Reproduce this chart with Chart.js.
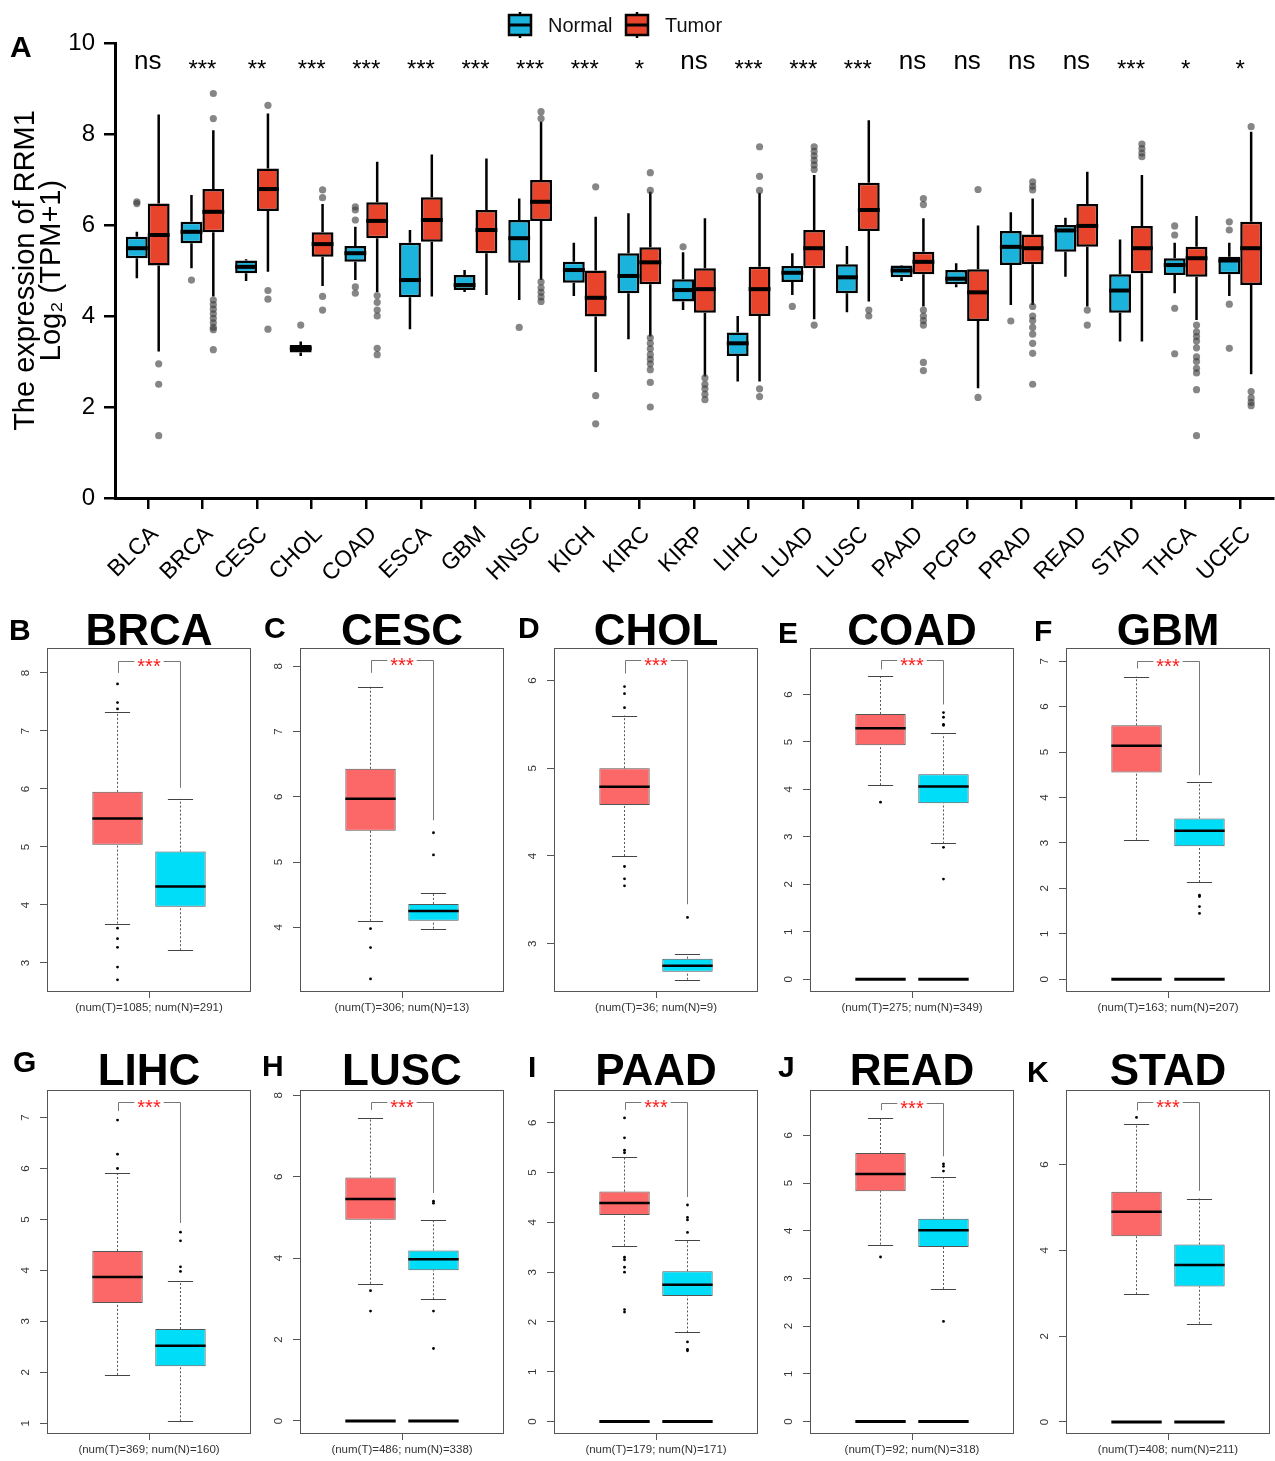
<!DOCTYPE html>
<html>
<head>
<meta charset="utf-8">
<script src="https://cdn.jsdelivr.net/npm/chart.js@4.4.1/dist/chart.umd.min.js"></script>
<style>
html,body{margin:0;padding:0;background:#fff;}
body{width:1275px;height:1461px;position:relative;overflow:hidden;}
canvas{position:absolute;}
</style>
</head>
<body>
<script>
// ================= Panel A data =================
const cancerTypes = ['BLCA','BRCA','CESC','CHOL','COAD','ESCA','GBM','HNSC','KICH','KIRC','KIRP','LIHC','LUAD','LUSC','PAAD','PCPG','PRAD','READ','STAD','THCA','UCEC'];
const significance = ['ns','***','**','***','***','***','***','***','***','*','ns','***','***','***','ns','ns','ns','ns','***','*','*'];
// [lower whisker, Q1, median, Q3, upper whisker]
const normalStats = [
  [4.83,5.27,5.49,5.74,5.85],[5.05,5.60,5.85,6.07,6.66],[4.77,4.94,5.08,5.22,5.25],[3.12,3.20,3.29,3.36,3.44],
  [4.79,5.19,5.38,5.54,5.96],[3.71,4.41,4.79,5.61,5.89],[4.53,4.57,4.68,4.90,5.01],[4.35,5.17,5.71,6.11,6.58],
  [4.44,4.73,5.01,5.19,5.61],[3.49,4.50,4.88,5.38,6.26],[4.13,4.32,4.57,4.81,5.40],[2.56,3.12,3.40,3.64,4.00],
  [4.46,4.75,4.95,5.10,5.38],[4.08,4.50,4.85,5.14,5.54],[4.77,4.85,5.00,5.11,5.12],[4.63,4.70,4.82,5.01,5.16],
  [4.24,5.12,5.52,5.87,6.28],[4.86,5.41,5.88,6.00,6.16],[3.44,4.07,4.56,4.92,5.68],[4.50,4.90,5.12,5.27,5.61],
  [4.44,4.92,5.22,5.30,5.61]
];
const tumorStats = [
  [3.22,5.11,5.78,6.47,8.43],[4.43,5.84,6.29,6.79,8.08],[4.97,6.31,6.79,7.24,8.45],[4.66,5.30,5.58,5.84,6.46],
  [4.53,5.71,6.09,6.50,7.39],[4.43,5.63,6.11,6.61,7.55],[4.46,5.38,5.89,6.33,7.46],[4.79,6.09,6.51,6.99,8.27],
  [2.77,3.99,4.40,5.00,6.18],[3.55,4.70,5.18,5.51,6.73],[2.67,4.07,4.59,5.05,6.15],[2.56,4.00,4.59,5.08,6.71],
  [3.93,5.05,5.49,5.89,7.10],[4.32,5.87,6.33,6.93,8.30],[4.21,4.92,5.19,5.41,6.15],[2.41,3.89,4.52,5.03,5.99],
  [4.24,5.14,5.49,5.79,6.58],[4.21,5.52,5.98,6.46,7.17],[3.44,4.94,5.49,5.98,7.10],[3.91,4.86,5.27,5.52,6.20],
  [2.72,4.68,5.49,6.07,8.05]
];
const normalOutliers = [
  [6.51,6.47],[4.79],[],[3.80],[6.40,6.33,6.11,4.64,4.50],[],[],[3.75],[],[],[5.52],[],
  [4.21],[],[],[],[3.89],[],[],[5.98,5.78,4.17,3.17],[6.07,5.89,4.26,3.29]
];
const tumorOutliers = [
  [2.95,2.50,1.37],
  [8.89,8.34,4.35,4.25,4.15,4.05,3.95,3.85,3.75,3.70,3.26],
  [8.63,4.56,4.37,3.71],
  [6.77,6.60,4.43,4.13],
  [4.45,4.30,4.13,4.00,3.29,3.15],
  [],[],
  [8.49,8.34,4.75,4.62,4.52,4.42,4.32],
  [6.84,2.25,1.63],
  [7.15,6.76,3.52,3.40,3.28,3.15,3.05,2.95,2.82,2.54,2.00],
  [2.64,2.50,2.40,2.28,2.16],
  [7.72,7.07,6.76,2.40,2.23],
  [7.72,7.62,7.52,7.42,7.32,7.22,3.80],
  [4.13,4.00],
  [6.58,6.45,4.13,4.00,3.90,3.80,2.98,2.80],
  [6.78,2.21],
  [6.95,6.85,6.77,4.21,4.00,3.90,3.75,3.60,3.40,3.18,2.50],
  [4.13,3.80],
  [7.78,7.68,7.58,7.50],
  [3.80,3.65,3.55,3.45,3.30,3.10,3.00,2.85,2.75,2.38,1.37],
  [8.16,2.34,2.20,2.10,2.03]
];
const yTicksA = [0,2,4,6,8,10];
const seriesNames = ['Normal','Tumor'];

// ================= Panels B-K data =================
const panelNames = ['BRCA','CESC','CHOL','COAD','GBM','LIHC','LUSC','PAAD','READ','STAD'];
const panelLetters = ['B','C','D','E','F','G','H','I','J','K'];
const panelTumorStats = [
  [3.68,5.04,5.49,5.95,7.33],[4.10,5.48,5.97,6.43,7.69],[4.00,4.58,4.79,5.00,5.60],[4.09,4.93,5.29,5.59,6.39],
  [3.07,4.55,5.14,5.59,6.66],[1.95,3.36,3.87,4.38,5.91],[3.37,4.94,5.45,5.98,7.45],[3.53,4.15,4.39,4.62,5.32],
  [3.71,4.83,5.19,5.63,6.36],[2.98,4.33,4.90,5.37,6.95]
];
const panelNormalStats = [
  [3.22,3.97,4.32,4.92,5.83],[3.98,4.10,4.25,4.36,4.52],[2.59,2.68,2.75,2.83,2.88],[2.86,3.71,4.06,4.32,5.18],
  [2.14,2.93,3.27,3.54,4.34],[1.04,2.12,2.52,2.85,3.79],[2.99,3.70,3.97,4.19,4.94],[1.79,2.52,2.75,3.02,3.65],
  [2.78,3.66,4.01,4.25,5.12],[2.29,3.16,3.66,4.14,5.21]
];
const panelTumorOutliers = [
  [7.81,7.49,7.38,3.60,3.42,3.27,2.93,2.71],[3.98,3.69,3.21],[5.93,5.85,5.69,3.88,3.74,3.66],[3.73],
  [],[6.95,6.28,6.00],[3.20,2.70],[6.10,5.70,5.45,5.40,3.30,3.25,3.10,3.00,2.25,2.20],[3.45],[7.10]
];
const panelNormalOutliers = [
  [],[5.45,5.11],[3.30],[5.62,5.52,5.37,5.35,2.78,2.11],[1.85,1.82,1.60,1.45],[4.75,4.58,4.07,3.98],
  [5.40,5.35,2.70,1.78],[4.35,4.10,4.05,3.80,1.60,1.45,1.42],[5.40,5.35,5.25,2.10],[]
];
const panelYMin = [2.50,3.01,2.45,-0.27,-0.28,0.79,-0.32,-0.25,-0.26,-0.28];
const panelYMax = [8.43,8.28,6.37,6.98,7.29,7.54,8.13,6.66,6.95,7.74];
const panelYTicks = [
  [3,4,5,6,7,8],[4,5,6,7,8],[3,4,5,6],[0,1,2,3,4,5,6],[0,1,2,3,4,5,6,7],
  [1,2,3,4,5,6,7],[0,2,4,6,8],[0,1,2,3,4,5,6],[0,1,2,3,4,5,6],[0,2,4,6]
];
// [bracket top, tumor leg end, normal leg end]
const panelBracket = [
  [8.20,8.00,6.02],[8.09,7.90,5.64],[6.23,6.08,3.45],[6.72,6.53,5.79],[7.00,6.84,4.49],
  [7.30,7.13,4.93],[7.83,7.64,5.60],[6.41,6.26,4.51],[6.68,6.53,5.56],[7.45,7.26,5.39]
];
const panelTumorN = [1085,306,36,275,163,369,486,179,92,408];
const panelNormalN = [291,13,9,349,207,160,338,171,318,211];
const panelZeroGroups = [false,false,false,true,true,false,true,true,true,true];

// ================= Drawing =================
const FONT = "'Liberation Sans', Arial, Helvetica, sans-serif";
Chart.defaults.font.family = FONT;
const NORMAL_A = '#1bb3dc', TUMOR_A = '#e8432b';
const NORMAL_S = '#00ddf9', TUMOR_S = '#fc6767';

function makeCanvas(left, top, w, h) {
  const c = document.createElement('canvas');
  c.width = w; c.height = h;
  c.style.left = left + 'px'; c.style.top = top + 'px';
  c.style.width = w + 'px'; c.style.height = h + 'px';
  document.body.appendChild(c);
  return c;
}

function boxParts(cfg) {
  return {
    id: 'boxParts',
    beforeDatasetsDraw(chart) {
      const ctx = chart.ctx, ys = chart.scales.y;
      cfg.sets.forEach(set => {
        const meta = chart.getDatasetMeta(set.ds);
        meta.data.forEach((bar, i) => {
          const s = set.stats[i];
          const {x, width} = bar.getProps(['x', 'width'], true);
          ctx.save();
          ctx.strokeStyle = cfg.whiskerColor; ctx.lineWidth = cfg.whiskerWidth;
          if (cfg.whiskerDash) ctx.setLineDash(cfg.whiskerDash);
          ctx.beginPath();
          ctx.moveTo(x, ys.getPixelForValue(s[0])); ctx.lineTo(x, ys.getPixelForValue(s[1]));
          ctx.moveTo(x, ys.getPixelForValue(s[3])); ctx.lineTo(x, ys.getPixelForValue(s[4]));
          ctx.stroke();
          ctx.restore();
          if (cfg.capRatio) {
            ctx.save(); ctx.strokeStyle = cfg.capColor; ctx.lineWidth = 1;
            const hw = width * cfg.capRatio / 2;
            [s[0], s[4]].forEach(v => {
              const py = Math.round(ys.getPixelForValue(v)) + 0.5;
              ctx.beginPath(); ctx.moveTo(x - hw, py); ctx.lineTo(x + hw, py); ctx.stroke();
            });
            ctx.restore();
          }
        });
      });
    },
    afterDatasetsDraw(chart) {
      const ctx = chart.ctx, ys = chart.scales.y;
      cfg.sets.forEach(set => {
        const meta = chart.getDatasetMeta(set.ds);
        meta.data.forEach((bar, i) => {
          const s = set.stats[i];
          const {x, width} = bar.getProps(['x', 'width'], true);
          ctx.save();
          ctx.strokeStyle = '#000'; ctx.lineWidth = cfg.medianWidth;
          const py = ys.getPixelForValue(s[2]);
          ctx.beginPath(); ctx.moveTo(x - width / 2, py); ctx.lineTo(x + width / 2, py); ctx.stroke();
          if (cfg.zero) {
            const pz = ys.getPixelForValue(0);
            ctx.lineWidth = 3;
            ctx.beginPath(); ctx.moveTo(x - width / 2, pz); ctx.lineTo(x + width / 2, pz); ctx.stroke();
          }
          ctx.restore();
        });
      });
    }
  };
}

// ---------- Panel A ----------
(function () {
  const W = 1277, H = 600;
  const cv = makeCanvas(0, 0, W, H);
  const DODGE = 0.2;
  const nPts = [], tPts = [];
  normalOutliers.forEach((arr, i) => arr.forEach(v => nPts.push({x: i + 1 - DODGE, y: v})));
  tumorOutliers.forEach((arr, i) => arr.forEach(v => tPts.push({x: i + 1 + DODGE, y: v})));

  const overlay = {
    id: 'overlayA',
    afterDraw(chart) {
      const ctx = chart.ctx, xs = chart.scales.x, ca = chart.chartArea;
      ctx.save();
      // significance labels
      ctx.fillStyle = '#000'; ctx.textAlign = 'center'; ctx.textBaseline = 'alphabetic';
      significance.forEach((s, i) => {
        const px = xs.getPixelForValue(i + 1);
        if (s === 'ns') { ctx.font = '26px ' + FONT; ctx.fillText(s, px, ca.top + 26); }
        else { ctx.font = '24px ' + FONT; ctx.fillText(s, px, ca.top + 34); }
      });
      // legend
      const icons = [[509, NORMAL_A], [626, TUMOR_A]];
      icons.forEach(([x0, col], k) => {
        const y0 = 15;
        ctx.strokeStyle = '#000'; ctx.lineWidth = 2.5;
        ctx.beginPath(); ctx.moveTo(x0 + 11, y0 - 3); ctx.lineTo(x0 + 11, y0 + 23); ctx.stroke();
        ctx.fillStyle = col; ctx.fillRect(x0, y0, 22, 20);
        ctx.strokeRect(x0, y0, 22, 20);
        ctx.lineWidth = 3;
        ctx.beginPath(); ctx.moveTo(x0, y0 + 10); ctx.lineTo(x0 + 22, y0 + 10); ctx.stroke();
        ctx.fillStyle = '#111'; ctx.font = '20px ' + FONT; ctx.textAlign = 'left';
        ctx.fillText(seriesNames[k], x0 + 39, 32);
      });
      // panel letter
      ctx.fillStyle = '#000'; ctx.font = 'bold 30px ' + FONT; ctx.textAlign = 'left';
      ctx.fillText('A', 10, 57);
      ctx.restore();
    }
  };

  new Chart(cv, {
    type: 'bar',
    data: {
      datasets: [
        {type: 'bar', label: 'Normal', data: cancerTypes.map((c, i) => ({x: i + 1, y: [normalStats[i][1], normalStats[i][3]]})),
         backgroundColor: NORMAL_A, borderColor: '#000', borderWidth: 2.5, borderSkipped: false,
         grouped: true, categoryPercentage: 0.8, barPercentage: 1},
        {type: 'bar', label: 'Tumor', data: cancerTypes.map((c, i) => ({x: i + 1, y: [tumorStats[i][1], tumorStats[i][3]]})),
         backgroundColor: TUMOR_A, borderColor: '#000', borderWidth: 2.5, borderSkipped: false,
         grouped: true, categoryPercentage: 0.8, barPercentage: 1},
        {type: 'scatter', label: 'Normal outliers', data: nPts, pointRadius: 3.6,
         backgroundColor: 'rgba(60,60,60,0.62)', pointBackgroundColor: 'rgba(60,60,60,0.62)', borderWidth: 0, pointBorderWidth: 0},
        {type: 'scatter', label: 'Tumor outliers', data: tPts, pointRadius: 3.6,
         backgroundColor: 'rgba(60,60,60,0.62)', pointBackgroundColor: 'rgba(60,60,60,0.62)', borderWidth: 0, pointBorderWidth: 0}
      ]
    },
    options: {
      responsive: false, animation: false, devicePixelRatio: 1, events: [],
      layout: {padding: {top: 43, left: 0, right: 1, bottom: 0}},
      plugins: {legend: {display: false}, tooltip: {enabled: false}},
      scales: {
        x: {
          type: 'linear', min: 0.4, max: 21.6, offset: false,
          afterBuildTicks: s => { s.ticks = cancerTypes.map((c, i) => ({value: i + 1})); },
          afterFit: s => { s.height = H - 498; },
          ticks: {autoSkip: false, minRotation: 45, maxRotation: 45, padding: 12, labelOffset: 7, color: '#000',
                  font: {size: 23}, callback: v => cancerTypes[Math.round(v) - 1]},
          grid: {display: true, drawOnChartArea: false, drawTicks: true, tickLength: 11, color: '#000', lineWidth: 2.5, offset: false},
          border: {display: true, color: '#000', width: 3}
        },
        y: {
          type: 'linear', min: 0, max: 10,
          afterBuildTicks: s => { s.ticks = yTicksA.map(v => ({value: v})); },
          afterFit: s => { s.width = 115; },
          ticks: {padding: 9, color: '#000', font: {size: 24}, callback: v => String(v)},
          grid: {display: true, drawOnChartArea: false, drawTicks: true, tickLength: 11, color: '#000', lineWidth: 2.5},
          border: {display: true, color: '#000', width: 3},
          title: {display: true, text: ['The expression of RRM1', 'Log\u2082 (TPM+1)'], color: '#000',
                  font: {size: 29, lineHeight: 0.9}, padding: {top: 13, bottom: 0}}
        }
      }
    },
    plugins: [boxParts({
      sets: [{ds: 0, stats: normalStats}, {ds: 1, stats: tumorStats}],
      whiskerColor: '#000', whiskerWidth: 2.5, medianWidth: 4, capRatio: 0, zero: false
    }), overlay]
  });
})();

// ---------- Panels B-K ----------
const colFrameLeft = [47, 300, 554, 810, 1066];
const rowFrameTop = [648, 1090];
const rowCanvasTop = [600, 1040];
const rowCanvasH = [425, 421];
const titleGap = [3, 5];
const letterPos = [[9,640],[264,638],[518,638],[778,643],[1034,641],[13,1072],[262,1076],[528,1077],[778,1077],[1027,1082]];
const FRAME_W = 204, FRAME_H = 344;

panelNames.forEach((name, k) => {
  const r = Math.floor(k / 5), c = k % 5;
  const L = colFrameLeft[c] - 47, T = rowCanvasTop[r];
  const W = 47 + FRAME_W + 4, H = rowCanvasH[r];
  const padTop = rowFrameTop[r] - T;
  const xH = H - padTop - FRAME_H;
  const cv = makeCanvas(L, T, W, H);
  const countLabel = '(num(T)=' + panelTumorN[k] + '; num(N)=' + panelNormalN[k] + ')';

  const overlay = {
    id: 'overlaySmall',
    afterDatasetsDraw(chart) {
      const ctx = chart.ctx, ys = chart.scales.y;
      const bt = chart.getDatasetMeta(0).data[0].getProps(['x'], true).x;
      const bn = chart.getDatasetMeta(1).data[0].getProps(['x'], true).x;
      const b = panelBracket[k];
      const yTop = Math.round(ys.getPixelForValue(b[0])) + 0.5;
      ctx.save();
      ctx.strokeStyle = '#777'; ctx.lineWidth = 1;
      ctx.beginPath();
      ctx.moveTo(Math.round(bt) + 0.5, ys.getPixelForValue(b[1]));
      ctx.lineTo(Math.round(bt) + 0.5, yTop);
      ctx.lineTo(Math.round(bn) + 0.5, yTop);
      ctx.lineTo(Math.round(bn) + 0.5, ys.getPixelForValue(b[2]));
      ctx.stroke();
      ctx.font = '20px ' + FONT;
      const cx = (bt + bn) / 2;
      const w = ctx.measureText('***').width;
      ctx.fillStyle = '#fff'; ctx.fillRect(cx - w / 2 - 3, yTop - 4, w + 6, 8);
      ctx.fillStyle = '#ff1a1a'; ctx.textAlign = 'center'; ctx.textBaseline = 'alphabetic';
      ctx.fillText('***', cx, yTop + 11.5);
      ctx.restore();
    },
    afterDraw(chart) {
      const ctx = chart.ctx, ca = chart.chartArea;
      ctx.save();
      ctx.strokeStyle = '#555'; ctx.lineWidth = 1;
      ctx.strokeRect(Math.round(ca.left) + 0.5, Math.round(ca.top) + 0.5, Math.round(ca.right - ca.left) - 1, Math.round(ca.bottom - ca.top) - 1);
      ctx.fillStyle = '#000'; ctx.textBaseline = 'alphabetic';
      ctx.font = 'bold 44px ' + FONT; ctx.textAlign = 'center';
      ctx.fillText(name, (ca.left + ca.right) / 2, ca.top - titleGap[r]);
      ctx.font = 'bold 30px ' + FONT; ctx.textAlign = 'left';
      ctx.fillText(panelLetters[k], letterPos[k][0] - L, letterPos[k][1] - T);
      ctx.restore();
    }
  };

  new Chart(cv, {
    type: 'bar',
    data: {
      datasets: [
        {type: 'bar', label: 'Tumor', data: [{x: 1, y: [panelTumorStats[k][1], panelTumorStats[k][3]]}],
         backgroundColor: TUMOR_S, borderColor: '#555', borderWidth: 1, borderSkipped: false,
         grouped: false, categoryPercentage: 0.8, barPercentage: 1},
        {type: 'bar', label: 'Normal', data: [{x: 2, y: [panelNormalStats[k][1], panelNormalStats[k][3]]}],
         backgroundColor: NORMAL_S, borderColor: '#555', borderWidth: 1, borderSkipped: false,
         grouped: false, categoryPercentage: 0.8, barPercentage: 1},
        {type: 'scatter', label: 'Tumor outliers', data: panelTumorOutliers[k].map(v => ({x: 1, y: v})),
         pointRadius: 1.4, backgroundColor: '#000', pointBackgroundColor: '#000', borderWidth: 0, pointBorderWidth: 0},
        {type: 'scatter', label: 'Normal outliers', data: panelNormalOutliers[k].map(v => ({x: 2, y: v})),
         pointRadius: 1.4, backgroundColor: '#000', pointBackgroundColor: '#000', borderWidth: 0, pointBorderWidth: 0}
      ]
    },
    options: {
      responsive: false, animation: false, devicePixelRatio: 1, events: [],
      layout: {padding: {top: padTop, left: 0, right: 4, bottom: 0}},
      plugins: {legend: {display: false}, tooltip: {enabled: false}},
      scales: {
        x: {
          type: 'linear', min: -0.12, max: 3.12, offset: false,
          afterBuildTicks: s => { s.ticks = [{value: 1.5}]; },
          afterFit: s => { s.height = xH; },
          ticks: {autoSkip: false, minRotation: 0, maxRotation: 0, padding: 3, color: '#333',
                  font: {size: 11.5}, callback: () => countLabel},
          grid: {display: true, drawOnChartArea: false, drawTicks: true, tickLength: 6, color: '#555', lineWidth: 1, offset: false},
          border: {display: false}
        },
        y: {
          type: 'linear', min: panelYMin[k], max: panelYMax[k],
          afterBuildTicks: s => { s.ticks = panelYTicks[k].map(v => ({value: v})); },
          afterFit: s => { s.width = 47; },
          ticks: {padding: 11, color: '#333', font: {size: 11.5}, minRotation: 90, maxRotation: 90,
                  crossAlign: 'center', callback: v => String(v)},
          grid: {display: true, drawOnChartArea: false, drawTicks: true, tickLength: 7, color: '#555', lineWidth: 1},
          border: {display: false}
        }
      }
    },
    plugins: [boxParts({
      sets: [{ds: 0, stats: [panelTumorStats[k]]}, {ds: 1, stats: [panelNormalStats[k]]}],
      whiskerColor: '#555', whiskerWidth: 1, whiskerDash: [2, 2], capRatio: 0.5, capColor: '#444',
      medianWidth: 2.5, zero: panelZeroGroups[k]
    }), overlay]
  });
});
</script>
</body>
</html>
